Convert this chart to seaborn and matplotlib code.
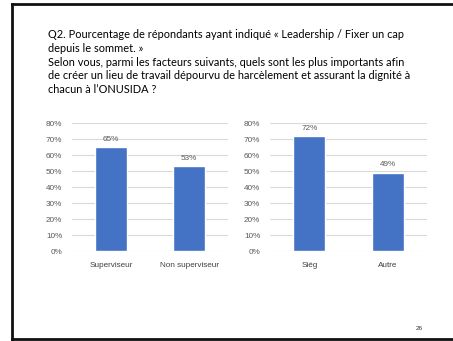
import matplotlib
matplotlib.use("Agg")
import matplotlib.pyplot as plt
from matplotlib.lines import Line2D
import seaborn as sns
import pandas as pd

# Question text, one entry per printed line
title_lines = [
    "Q2. Pourcentage de répondants ayant indiqué « Leadership / Fixer un cap",
    "depuis le sommet. »",
    "Selon vous, parmi les facteurs suivants, quels sont les plus importants afin",
    "de créer un lieu de travail dépourvu de harcèlement et assurant la dignité à",
    "chacun à l\u2019ONUSIDA ?",
]

# Left panel: by supervisory role
role_labels = ["Superviseur", "Non superviseur"]
role_values = [0.65, 0.53]

# Right panel: by location
site_labels = ["Siég", "Autre"]
site_values = [0.72, 0.49]

y_ticks = [0.0, 0.1, 0.2, 0.3, 0.4, 0.5, 0.6, 0.7, 0.8]
page_number = "26"

sns.set_theme(style="white")
plt.rcParams["font.family"] = ["Liberation Sans", "DejaVu Sans"]

W, H = 453, 341
fig = plt.figure(figsize=(W / 100, H / 100), dpi=100)
fig.patch.set_facecolor("white")

# Slide frame: left, top and bottom edges (right edge runs off the page)
frame_kw = dict(transform=fig.transFigure, color="#111111", linewidth=2.0,
                solid_capstyle="projecting")
x_l = 12 / W
y_t = 1 - 4 / H
y_b = 1 - 339.3 / H
fig.lines.extend([
    Line2D([x_l, x_l], [y_b, y_t], **frame_kw),
    Line2D([x_l, 1.02], [y_t, y_t], **frame_kw),
    Line2D([x_l, 1.02], [y_b, y_b], **frame_kw),
])

# Question text
y0 = 35
for i, line in enumerate(title_lines):
    fig.text(48 / W, 1 - (y0 + i * 13.6) / H, line, fontsize=7.95,
             family=["Lato", "DejaVu Sans"], color="#000000",
             va="center", ha="left")

bar_color = "#4472C4"
grid_color = "#D9D9D9"
tick_color = "#595959"


def panel(left_px, right_px, labels, values):
    top_px, bottom_px = 123, 251
    ax = fig.add_axes([left_px / W, 1 - bottom_px / H,
                       (right_px - left_px) / W, (bottom_px - top_px) / H])
    df = pd.DataFrame({"cat": labels, "val": values})
    sns.barplot(data=df, x="cat", y="val", color=bar_color, width=0.41,
                saturation=1, ax=ax, zorder=3)
    ax.set_xlim(-0.5, 1.5)
    ax.set_ylim(0, 0.8)
    ax.set_yticks(y_ticks)
    ax.set_yticklabels([f"{t:.0%}" for t in y_ticks])
    for t in y_ticks:
        ax.axhline(t, color=grid_color, linewidth=0.8, zorder=1)
    for s in ax.spines.values():
        s.set_visible(False)
    ax.tick_params(axis="y", length=0, pad=7, labelsize=5.9, labelcolor=tick_color)
    ax.tick_params(axis="x", length=0, pad=8, labelsize=5.9, labelcolor="#404040")
    ax.set_xlabel("")
    ax.set_ylabel("")
    ax.bar_label(ax.containers[0], labels=[f"{v:.0%}" for v in values],
                 padding=3, fontsize=5.9, color=tick_color)
    ax.set_facecolor("none")
    return ax


panel(72, 228, role_labels, role_values)
panel(270, 427, site_labels, site_values)

fig.text(419 / W, 1 - 328 / H, page_number, fontsize=4.6, color="#333333",
         ha="center", va="center")

fig.savefig("out.png", dpi=100, facecolor="white")
